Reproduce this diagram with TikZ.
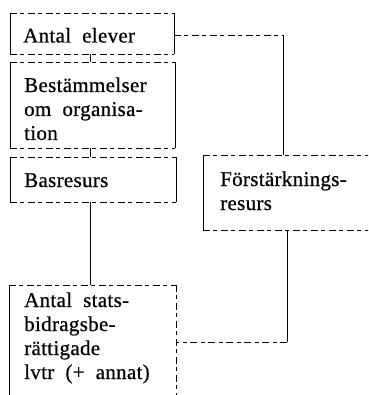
\documentclass[tikz,border=0pt]{standalone}
\usepackage{fontspec}
\setmainfont[LetterSpace=1.5,WordSpace=2,FakeBold=0.6]{Liberation Serif}
\newcommand\boxfont{\fontsize{21}{24}\selectfont}
\tikzset{
  frame/.style={draw=none, inner sep=0pt},
  txt/.style={inner sep=0pt, align=left, font=\boxfont, anchor=base west},
  hd/.style={line width=0.9pt, dash pattern=on 7pt off 3pt on 4pt off 4pt},
  vd/.style={line width=0.9pt},
  con/.style={line width=0.9pt},
}
\newcommand\boxborder[1]{%
  \draw[hd] (#1.north west) -- (#1.north east);
  \draw[hd] (#1.south west) -- (#1.south east);
  \draw[vd] (#1.north west) -- (#1.south west);
  \draw[vd] (#1.north east) -- (#1.south east);}
\begin{document}
\begin{tikzpicture}[x=1pt,y=-1pt]
\fill[white] (0,0) rectangle (368,395);
\useasboundingbox (0,0) rectangle (368,395);
\clip (0,0) rectangle (368,395);
\coordinate (bot) at (0,400);
\coordinate (rgt) at (380,0);
\coordinate (m) at (90,0);
\coordinate (k) at (283,35);
\coordinate (j) at (287,342);
% frames
\node[frame, minimum width=164pt, minimum height=41pt, anchor=north west] (b1) at (10,13) {};
\node[frame, minimum width=165pt, minimum height=86pt, anchor=north west] (b2) at (10,62) {};
\node[frame, minimum width=166pt, minimum height=45pt, anchor=north west] (b3) at (10,157) {};
\node[frame, minimum width=200pt, minimum height=75pt, anchor=north west] (b4) at (203,155) {};
\node[frame, minimum width=167pt, minimum height=120pt, anchor=north west] (b5) at (9,285) {};
% texts (anchor = baseline of last line)
\node[txt] (t1) at ([shift={(13,29.5)}]b1.north west) {Antal elever};
\node[txt] (t2) at ([shift={(14,78)}]b2.north west) {Bestämmelser\\om organisa-\\tion};
\node[txt] (t3) at ([shift={(14,30)}]b3.north west) {Basresurs};
\node[txt] (t4) at ([shift={(17,55)}]b4.north west) {Förstärknings-\\resurs};
\node[txt] (t5) at ([shift={(15,94)}]b5.north west) {Antal stats-\\bidragsbe-\\rättigade\\lvtr (+ annat)};
\boxborder{b1}
\boxborder{b2}
\boxborder{b3}
\draw[hd] (b4.north west) -- (b4.north west -| rgt);
\draw[hd] (b4.south west) -- (b4.south west -| rgt);
\draw[vd] (b4.north west) -- (b4.south west);
\draw[hd] (b5.north west) -- (b5.north east);
\draw[vd] (b5.north west) -- (b5.west |- bot);
\draw[hd] (b5.north east) -- (b5.east |- bot);
% connectors
\draw[con] (b1.south -| m) -- (b2.north -| m);
\draw[con] (b2.south -| m) -- (b3.north -| m);
\draw[hd] (b1.east |- k) -- (k);
\draw[con] (k) -- (k |- b4.north);
\draw[con] (b3.south -| m) -- (b5.north -| m);
\draw[con] (b4.south -| j) -- (j);
\draw[hd] (j) -- (b5.east |- j);
\end{tikzpicture}
\end{document}
